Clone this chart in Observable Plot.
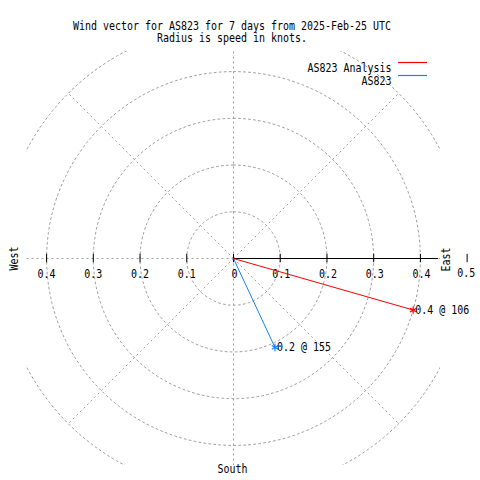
<!DOCTYPE html>
<html>
<head>
<meta charset="utf-8">
<script src="https://cdn.jsdelivr.net/npm/d3@7"></script>
<script src="https://cdn.jsdelivr.net/npm/@observablehq/plot@0.6"></script>
<style>
  html, body { margin: 0; padding: 0; background: #fff; }
</style>
</head>
<body>
<div id="chart"></div>
<script>
// ---- data ----
const titleLines = [
  "Wind vector for AS823 for 7 days from 2025-Feb-25 UTC",
  "Radius is speed in knots."
];
const series = ["AS823 Analysis", "AS823"];
const speeds = [0.4, 0.21];          // knots
const directions = [106, 155];       // degrees, clockwise from north
const seriesColors = ["#ff0000", "#1a82e6"];
const ringRadii = [0.1, 0.2, 0.3, 0.4, 0.5];
const spokeAngles = [0, 45, 90, 135, 180, 225, 270, 315];
const rTicks = [0.1, 0.2, 0.3, 0.4];
const outerTick = 0.5;
const compass = { west: "West", east: "East", south: "South" };

// ---- helpers ----
const EXTENT = 0.443;  // visible half-range of the frame (knots)
const rad = d => d * Math.PI / 180;
const px = (r, a) => r * Math.sin(rad(a));
const py = (r, a) => r * Math.cos(rad(a));

const vectors = series.map((name, i) => ({
  name, speed: speeds[i], dir: directions[i], color: seriesColors[i],
  x: px(speeds[i], directions[i]), y: py(speeds[i], directions[i]),
  label: `${d3.format(".1f")(speeds[i])} @ ${directions[i]}`
}));

const ringPts = ringRadii.flatMap(r => d3.range(0, 361, 2).map(a => ({ r, x: px(r, a), y: py(r, a) })));

const grid = "#a0a0a0";
const dash = "2,3";
const font = "DejaVu Sans Mono";

const plot = Plot.plot({
  width: 480,
  height: 480,
  marginLeft: 26,
  marginRight: 40,
  marginTop: 51,
  marginBottom: 15,
  x: { domain: [-EXTENT, EXTENT], axis: null },
  y: { domain: [-EXTENT, EXTENT], axis: null },
  color: { type: "identity" },
  style: { fontFamily: font, fontSize: "12px", background: "#fff", color: "#000" },
  marks: [
    // grid rings
    Plot.line(ringPts, { x: "x", y: "y", z: "r", stroke: grid, strokeWidth: 1, strokeDasharray: dash, clip: "frame" }),
    // spokes
    Plot.link(spokeAngles, {
      x1: 0, y1: 0,
      x2: a => px(ringRadii[ringRadii.length - 1], a),
      y2: a => py(ringRadii[ringRadii.length - 1], a),
      stroke: grid, strokeWidth: 1, strokeDasharray: dash, clip: "frame"
    }),
    // east axis (solid)
    Plot.ruleY([0], { x1: 0, x2: EXTENT * 0.99, stroke: "#000", strokeWidth: 1 }),
    // tick marks
    Plot.ruleX([0, ...rTicks, ...rTicks.map(v => -v), outerTick], { y1: -0.009, y2: 0.009, stroke: "#000", strokeWidth: 1 }),
    // tick labels (west side)
    Plot.text(rTicks, { x: d => -d, y: 0, text: d => String(d), dy: 16, fill: "#000" }),
    // tick labels (east side)
    Plot.text([0, ...rTicks], { x: d => d, y: 0, text: d => String(d), dx: 1, dy: 16, fill: "#000" }),
    Plot.text([outerTick], { x: d => d, y: 0, text: d => String(d), dx: -1, dy: 15, fill: "#000" }),
    // vectors
    Plot.link(vectors, { x1: 0, y1: 0, x2: "x", y2: "y", stroke: "color", strokeWidth: 1 }),
    Plot.dot(vectors, { x: "x", y: "y", symbol: "asterisk", r: 3.5, stroke: "color", strokeWidth: 1.2 }),
    Plot.text(vectors, { x: "x", y: "y", text: "label", textAnchor: "start", dx: 2, fill: "#000" }),
    // compass labels
    Plot.text([compass.west], { frameAnchor: "left", rotate: -90, textAnchor: "middle", dx: -12, fill: "#000" }),
    Plot.text([compass.east], { frameAnchor: "right", rotate: -90, textAnchor: "middle", dx: 6, dy: 1, fill: "#000" }),
    Plot.text([compass.south], { frameAnchor: "bottom", textAnchor: "middle", dx: -1, dy: 7, fill: "#000" }),
    // title
    Plot.text([titleLines[0]], { frameAnchor: "top", textAnchor: "middle", dx: -1.5, dy: -30.5, fill: "#000" }),
    Plot.text([titleLines[1]], { frameAnchor: "top", textAnchor: "middle", dx: -1.5, dy: -18, fill: "#000" }),
    // legend labels
    Plot.text(series.slice(0, 1), { frameAnchor: "top-right", textAnchor: "end", dx: -49, dy: 11.5, fill: "#000" }),
    Plot.text(series.slice(1, 2), { frameAnchor: "top-right", textAnchor: "end", dx: -49, dy: 24.5, fill: "#000" })
  ]
});

// legend swatches (lines) next to the labels
const svg = d3.select(plot);
const swatchY = [62.5, 75.5];
series.forEach((s, i) => {
  svg.append("line")
    .attr("x1", 398).attr("x2", 427)
    .attr("y1", swatchY[i]).attr("y2", swatchY[i])
    .attr("stroke", seriesColors[i]).attr("stroke-width", 1.2);
});

// mimic the narrow 6px-per-character terminal font
svg.selectAll("text").each(function () {
  const t = this.textContent;
  if (t && !this.querySelector("tspan")) {
    this.setAttribute("textLength", t.length * 6);
    this.setAttribute("lengthAdjust", "spacingAndGlyphs");
  }
});

document.getElementById("chart").appendChild(plot);
</script>
</body>
</html>
